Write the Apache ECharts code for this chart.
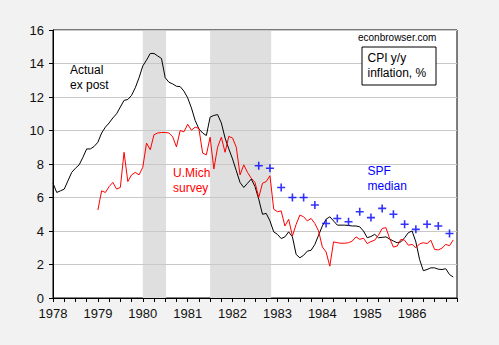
<!DOCTYPE html>
<html>
<head>
<meta charset="utf-8">
<script src="https://cdn.jsdelivr.net/npm/echarts@6/dist/echarts.min.js"></script>
<style>
  html, body { margin: 0; padding: 0; background: #f2f2f2; }
  #chart { width: 499px; height: 345px; }
</style>
</head>
<body>
<div id="chart"></div>
<script>
// CPI year-over-year inflation, monthly, Jan 1978 - Dec 1986 (%)
const cpiStartYear = 1978;
const cpiActual = [
  6.85, 6.3, 6.4, 6.5, 7.0, 7.5, 7.75, 7.95, 8.4, 8.9, 8.9, 9.05,
  9.3, 9.85, 10.2, 10.45, 10.75, 11.0, 11.4, 11.8, 11.85, 12.1, 12.55, 13.15,
  13.85, 14.2, 14.6, 14.6, 14.45, 14.3, 13.15, 12.88, 12.78, 12.64, 12.62, 12.35,
  11.95, 11.35, 10.6, 10.1, 9.85, 9.7, 10.8, 10.9, 10.95, 10.45, 9.55, 8.9,
  8.3, 7.6, 6.9, 6.6, 6.85, 7.1, 6.65, 5.9, 5.0, 5.05, 4.6, 3.95,
  3.8, 3.55, 3.65, 3.95, 3.65, 2.6, 2.4, 2.55, 2.8, 2.85, 3.2, 3.75,
  4.3, 4.7, 4.85, 4.6, 4.35, 4.35, 4.35, 4.33, 4.3, 4.3, 4.25, 4.0,
  3.6, 3.67, 3.8, 3.6, 3.62, 3.65, 3.52, 3.4, 3.3, 3.35, 3.6, 3.9,
  4.0, 3.35, 2.3, 1.63, 1.7, 1.8, 1.8, 1.72, 1.7, 1.75, 1.4, 1.25
];

// University of Michigan survey of expected inflation, monthly, Jan 1979 - Dec 1986 (%)
const michStartYear = 1979;
const michSurvey = [
  5.25, 6.4, 6.3, 6.65, 6.9, 6.5, 6.6, 8.7, 6.95, 7.35, 7.5, 7.35,
  7.8, 9.25, 8.85, 9.75, 9.85, 9.88, 9.88, 9.85, 9.62, 9.02, 10.0, 9.92,
  10.37, 10.02, 10.2, 10.12, 8.65, 8.55, 9.6, 7.7, 9.0, 9.6, 8.7, 9.65,
  9.55, 9.0, 7.35, 7.95, 7.5, 7.15, 6.9, 6.0, 6.85, 6.95, 7.3, 5.3,
  5.15, 5.2, 4.3, 4.7, 3.7, 4.4, 4.95, 4.85, 4.6, 4.75, 4.45, 4.0,
  3.05, 2.75, 1.9, 3.35, 3.3, 3.27, 3.27, 3.3, 3.4, 3.65, 3.5, 3.57,
  3.25, 3.37, 3.45, 3.75, 4.15, 4.2, 3.55, 3.04, 3.1, 3.5, 3.45, 3.15,
  3.2, 3.0, 3.23, 3.3, 3.25, 3.45, 2.9, 2.87, 2.98, 3.2, 3.12, 3.47
];

// Survey of Professional Forecasters median, quarterly, 1982Q3 - 1986Q4 (%),
// each quarter placed at its middle month
const spfStart = 1982 + 7 / 12;
const spfMedian = [
  7.9, 7.75, 6.6, 6.0, 6.0, 5.55, 4.45, 4.75, 4.55,
  5.15, 4.8, 5.35, 5.0, 4.4, 4.1, 4.4, 4.3, 3.85
];

// NBER recessions (start, end) in fractional years
const recessions = [
  [1980.0, 1980.52],
  [1981.5, 1982.86]
];

const yearLabels = [1978, 1979, 1980, 1981, 1982, 1983, 1984, 1985, 1986];

const monthly = (start, values) => values.map((v, i) => [start + i / 12, v]);
const quarterly = (start, values) => values.map((v, i) => [start + i / 4, v]);

const FONT = 'Arial, "Liberation Sans", sans-serif';
const PLUS = 'path://M0,3.2H8V4.8H0Z M3.2,0H4.8V8H3.2Z';

const chart = echarts.init(document.getElementById('chart'), null, { renderer: 'svg' });

chart.setOption({
  backgroundColor: '#f2f2f2',
  animation: false,
  grid: {
    left: 53, top: 30, width: 404, height: 268,
    show: true, backgroundColor: '#ffffff', borderColor: '#000000', borderWidth: 1
  },
  xAxis: {
    type: 'value', min: 1978, max: 1987, interval: 0.25, z: 1.5,
    axisLine: { show: true, onZero: false, lineStyle: { color: '#000', width: 1 } },
    axisTick: { show: true, length: 4, lineStyle: { color: '#000' } },
    splitLine: { show: false },
    axisLabel: {
      margin: 9, color: '#111', fontFamily: FONT, fontSize: 13,
      formatter: v => (yearLabels.indexOf(v) >= 0 ? String(v) : '')
    }
  },
  yAxis: {
    type: 'value', min: 0, max: 16, interval: 2, z: 1.5,
    axisLine: { show: true, lineStyle: { color: '#000', width: 1 } },
    axisTick: { show: true, length: 4, lineStyle: { color: '#000' } },
    splitLine: { show: true, lineStyle: { color: '#c8c8c8', width: 1 } },
    axisLabel: { margin: 9, color: '#111', fontFamily: FONT, fontSize: 13 }
  },
  series: [
    {
      name: 'Actual ex post', type: 'line', z: 2,
      data: monthly(cpiStartYear, cpiActual),
      showSymbol: false, symbol: 'none',
      lineStyle: { color: '#000000', width: 1 },
      markArea: {
        silent: true, z: 1,
        itemStyle: { color: '#dfdfdf' },
        data: recessions.map(r => [{ xAxis: r[0] }, { xAxis: r[1] }])
      }
    },
    {
      name: 'U.Mich survey', type: 'line', z: 3,
      data: monthly(michStartYear, michSurvey),
      showSymbol: false, symbol: 'none',
      lineStyle: { color: '#ff0000', width: 1 }
    },
    {
      name: 'SPF median', type: 'scatter', z: 4,
      data: quarterly(spfStart, spfMedian),
      symbol: PLUS, symbolSize: 8,
      itemStyle: { color: '#0000ff' }
    }
  ],
  graphic: [
    {
      type: 'text', left: 70, top: 62.5, z: 10,
      style: { text: 'Actual\nex post', font: '12px ' + FONT, fill: '#000', lineHeight: 15 }
    },
    {
      type: 'text', left: 173, top: 165.8, z: 10,
      style: { text: 'U.Mich\nsurvey', font: '12px ' + FONT, fill: '#ff0000', lineHeight: 15 }
    },
    {
      type: 'text', left: 367.5, top: 163.2, z: 10,
      style: { text: 'SPF\nmedian', font: '12px ' + FONT, fill: '#0000ff', lineHeight: 15 }
    },
    {
      type: 'text', left: 358, top: 31.7, z: 10,
      style: { text: 'econbrowser.com', font: '10px ' + FONT, fill: '#000', lineHeight: 12 }
    },
    {
      type: 'rect', left: 361.5, top: 46.5, z: 10,
      shape: { width: 74, height: 38 },
      style: { fill: '#ffffff', stroke: '#000000', lineWidth: 1 }
    },
    {
      type: 'text', left: 367.5, top: 50.2, z: 11,
      style: { text: 'CPI y/y\ninflation, %', font: '12px ' + FONT, fill: '#000', lineHeight: 15 }
    }
  ]
});
</script>
</body>
</html>
